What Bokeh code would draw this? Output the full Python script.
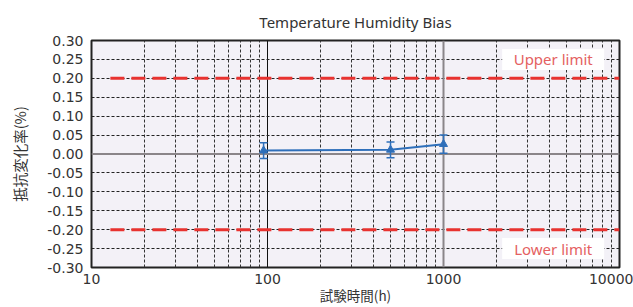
from bokeh.plotting import figure
from bokeh.models import FixedTicker, PrintfTickFormatter, Whisker, TeeHead, ColumnDataSource, Span
from bokeh.core.properties import value
from bokeh.embed import file_html
from bokeh.resources import INLINE

# ---- data ----
hours = [95, 500, 1000]
change = [0.009, 0.011, 0.026]
err = [0.021, 0.021, 0.024]

limit_x = [12.8, 10000]
upper_limit = [0.20, 0.20]
lower_limit = [-0.20, -0.20]

limit_text = ["Upper limit", "Lower limit"]
limit_text_x = [4200, 4200]
limit_text_y = [0.25, -0.25]

x_major = [10, 100, 1000, 10000]
x_minor = [20, 30, 40, 50, 60, 70, 80, 90,
           200, 300, 400, 500, 600, 700, 800, 900,
           2000, 3000, 4000, 5000, 6000, 7000, 8000, 9000]
y_ticks = [-0.30, -0.25, -0.20, -0.15, -0.10, -0.05, 0.00,
           0.05, 0.10, 0.15, 0.20, 0.25, 0.30]

CJK = "Noto Sans CJK JP"
LAT = "Noto Sans"
NUM = "DejaVu Sans"
BLUE = "#2e6fba"
RED = "#e8322f"

p = figure(width=633, height=307, x_axis_type="log",
           x_range=(10, 10000), y_range=(-0.30, 0.30),
           output_backend="svg", toolbar_location=None,
           title="Temperature Humidity Bias",
           min_border_left=91, min_border_right=14,
           min_border_top=38, min_border_bottom=40)

p.background_fill_color = "#f3f1f7"
p.border_fill_color = "white"
p.outline_line_color = "#222222"
p.outline_line_width = 2

p.title.text_font = LAT
p.title.text_font_size = "15px"
p.title.text_font_style = "normal"
p.title.text_color = "#333333"
p.title.align = "center"
p.title.standoff = 18

# axes
p.xaxis.ticker = FixedTicker(ticks=x_major, minor_ticks=x_minor)
p.yaxis.ticker = FixedTicker(ticks=y_ticks)
p.yaxis.formatter = PrintfTickFormatter(format="%.2f")
p.xaxis.major_label_overrides = {10: "10", 100: "100", 1000: "1000", 10000: "10000"}
for ax in (p.xaxis, p.yaxis):
    ax.axis_line_color = None
    ax.major_tick_line_color = None
    ax.minor_tick_line_color = None
    ax.major_tick_out = 0
    ax.major_tick_in = 0
    ax.minor_tick_out = 0
    ax.minor_tick_in = 0
    ax.major_label_text_font = NUM
    ax.major_label_text_font_size = "14px"
    ax.major_label_text_color = "#333333"
    ax.axis_label_text_font = CJK
    ax.axis_label_text_font_style = "normal"
    ax.axis_label_text_color = "#333333"
p.xaxis.axis_label = "試験時間(h)"
p.yaxis.axis_label = "抵抗変化率(%)"
p.xaxis.axis_label_text_font_size = "13.5px"
p.yaxis.axis_label_text_font_size = "14.5px"
p.xaxis.major_label_standoff = 6
p.xaxis.axis_label_standoff = -2
p.yaxis.major_label_standoff = 8
p.yaxis.axis_label_standoff = 14

# grid
p.xgrid.grid_line_color = "#111111"
p.xgrid.grid_line_width = 1
p.xgrid.minor_grid_line_color = "#333333"
p.xgrid.minor_grid_line_dash = "3 2"
p.xgrid.minor_grid_line_width = 1
p.ygrid.grid_line_color = "#222222"
p.ygrid.grid_line_dash = "3 2"
p.ygrid.grid_line_width = 1

p.add_layout(Span(location=1000, dimension="height", line_color="#8a8589",
                  line_width=2, level="underlay"))
p.add_layout(Span(location=0, dimension="width", line_color="#8a8589",
                  line_width=2, level="underlay"))

# limit lines
p.line(limit_x, upper_limit, line_color=RED, line_width=3, line_dash="14 7")
p.line(limit_x, lower_limit, line_color=RED, line_width=3, line_dash="14 7")

p.rect(x=limit_text_x, y=limit_text_y, width=102, height=21,
       width_units="screen", height_units="screen",
       fill_color="white", line_color=None)
p.text(x=limit_text_x, y=limit_text_y, text=limit_text,
       text_font=value(LAT), text_font_size="15px", text_color="#e46161",
       text_align="center", text_baseline="middle")

# data
src = ColumnDataSource(dict(
    x=hours, y=change,
    upper=[c + e for c, e in zip(change, err)],
    lower=[c - e for c, e in zip(change, err)],
))
p.add_layout(Whisker(source=src, base="x", upper="upper", lower="lower",
                     dimension="height", line_color=BLUE, line_width=1.5,
                     upper_head=TeeHead(size=8, line_color=BLUE, line_width=1.5),
                     lower_head=TeeHead(size=8, line_color=BLUE, line_width=1.5)))
p.line("x", "y", source=src, line_color=BLUE, line_width=2)
p.scatter("x", "y", source=src, marker="triangle", size=8,
          fill_color=BLUE, line_color=BLUE)

open("out.html", "w").write(file_html(p, INLINE))
